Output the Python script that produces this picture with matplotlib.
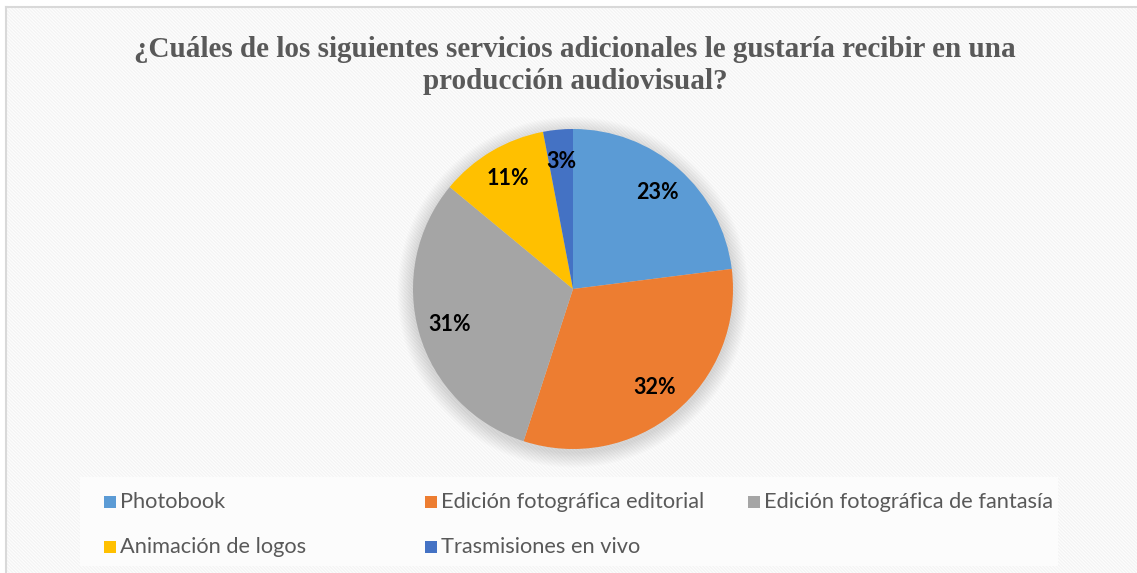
import matplotlib.pyplot as plt
from matplotlib.patches import Rectangle, Circle
from matplotlib.lines import Line2D

# data
labels = ['Photobook', 'Edición fotográfica editorial', 'Edición fotográfica de fantasía',
          'Animación de logos', 'Trasmisiones en vivo']
values = [23, 32, 31, 11, 3]
colors = ['#5B9BD5', '#ED7D31', '#A5A5A5', '#FFC000', '#4472C4']
title = '¿Cuáles de los siguientes servicios adicionales le gustaría recibir en una\nproducción audiovisual?'

W, H = 1137, 573
plt.rcParams['hatch.linewidth'] = 1.0
plt.rcParams['hatch.color'] = '#f4f4f4'

fig = plt.figure(figsize=(W / 100, H / 100), dpi=100)
fig.patch.set_facecolor('white')

# patterned chart background
bg = Rectangle((6 / W, 0), 1, 1 - 7 / H, transform=fig.transFigure, facecolor='white',
               edgecolor='#f4f4f4', hatch='\\' * 10, lw=0, zorder=0)
fig.patches.append(bg)
fig.add_artist(Line2D([6 / W, 1], [1 - 7 / H] * 2, color='#d9d9d9', lw=1.5))
fig.add_artist(Line2D([6 / W] * 2, [0, 1 - 7 / H], color='#d9d9d9', lw=1.5))

# legend background
leg_bg = Rectangle((80 / W, 1 - 566 / H), 978 / W, 89 / H, transform=fig.transFigure,
                   facecolor='#fcfcfc', edgecolor='none', zorder=1)
fig.patches.append(leg_bg)

fig.text(575 / W, 1 - 65.5 / H, title, ha='center', va='center', fontsize=21,
         fontweight='bold', family='Liberation Serif', color='#595959', linespacing=1.2)

# pie
cx, cy, r = 573, 289, 160
ax = fig.add_axes([(cx - r) / W, (H - cy - r) / H, 2 * r / W, 2 * r / H])
ax.set_zorder(5)
ax.patch.set_visible(False)
ax.axis('off')
for i in range(12):
    ax.add_patch(Circle((0.0, -0.02), 1.0 + 0.008 * (i + 1), color='black', alpha=0.012,
                        lw=0, zorder=0, clip_on=False))
wedges, texts, autotexts = ax.pie(values, colors=colors, startangle=90, counterclock=False,
                                  autopct='%1.0f%%', pctdistance=0.8, radius=1.0,
                                  wedgeprops=dict(linewidth=0))
for t in autotexts:
    t.set_fontsize(15.5)
    t.set_fontweight('bold')
    t.set_family('Lato')
    t.set_color('black')
ax.set_xlim(-1, 1)
ax.set_ylim(-1, 1)

# legend, laid out like the original (3 even columns)
col_x = [104, 425, 748]
row_y = [502, 547]
for i, (lab, col) in enumerate(zip(labels, colors)):
    x = col_x[i % 3]
    y = row_y[i // 3]
    fig.patches.append(Rectangle((x / W, 1 - (y + 6) / H), 12 / W, 12 / H,
                                 transform=fig.transFigure, facecolor=col, edgecolor='none',
                                 zorder=2))
    fig.text((x + 16) / W, 1 - y / H, lab, ha='left', va='center', fontsize=15.7,
             family='Lato', color='#595959', zorder=3)

fig.savefig('out.png', dpi=100)
